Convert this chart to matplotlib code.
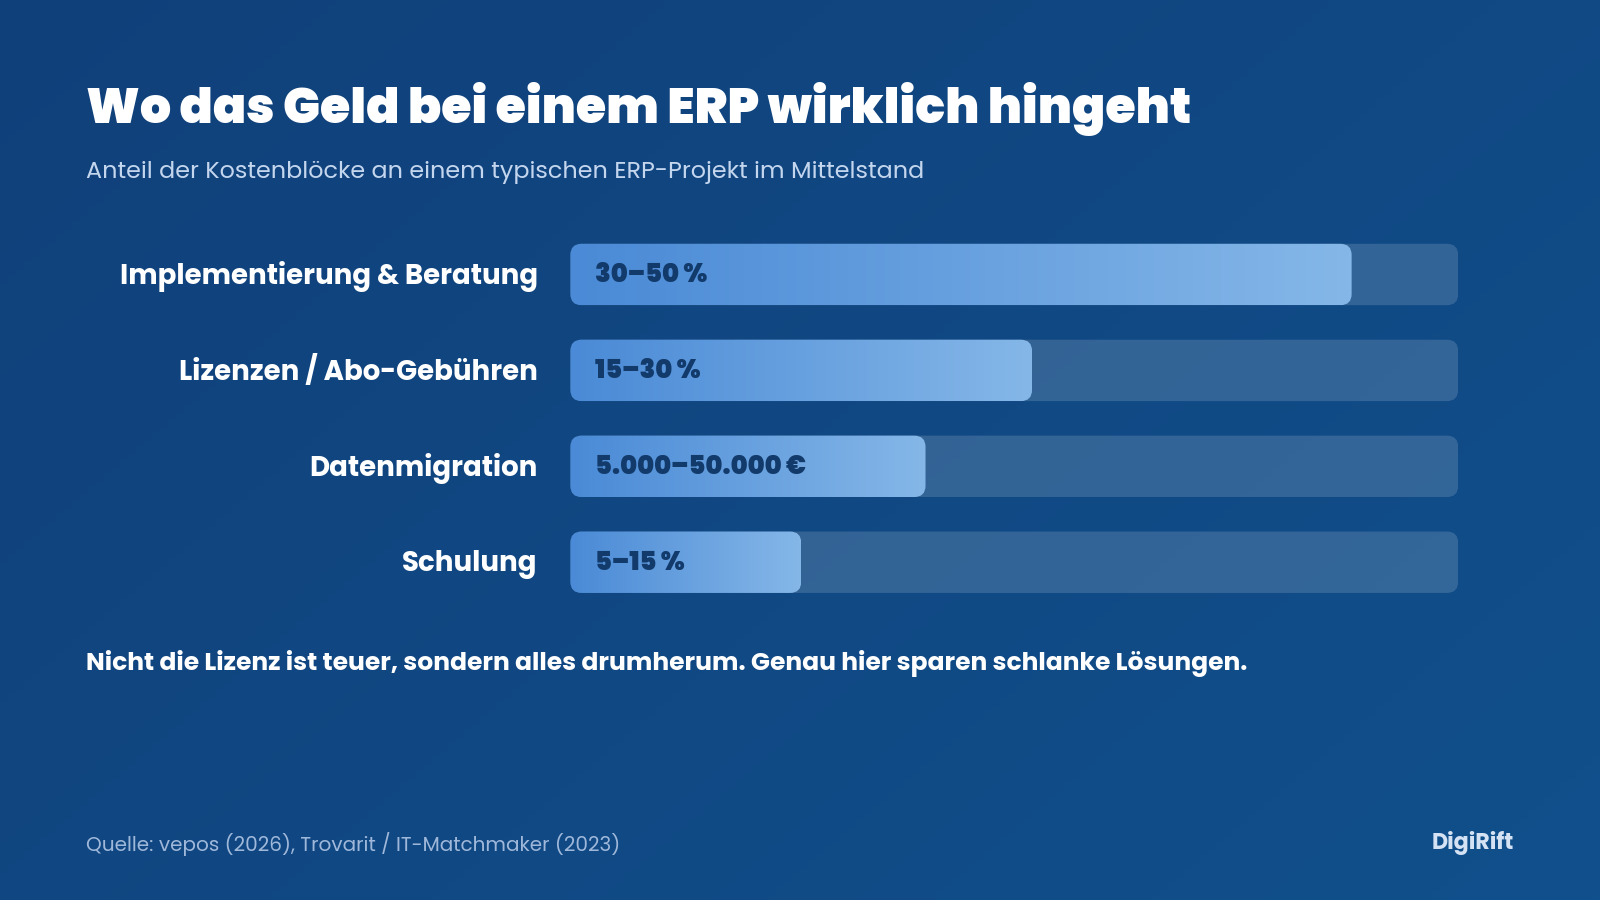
import numpy as np
import matplotlib
matplotlib.use("Agg")
import matplotlib.pyplot as plt
from matplotlib.patches import FancyBboxPatch
from matplotlib.colors import LinearSegmentedColormap

categories = ["Implementierung & Beratung", "Lizenzen / Abo-Gebühren", "Datenmigration", "Schulung"]
bar_values = [0.88, 0.52, 0.40, 0.26]
bar_labels = ["30–50 %", "15–30 %", "5.000–50.000 €", "5–15 %"]

W, H = 1568, 882
fig = plt.figure(figsize=(16, 9), dpi=100)
FONT = ["Poppins", "Inter", "DejaVu Sans"]
plt.rcParams['font.family'] = FONT

bg = fig.add_axes([0, 0, 1, 1])
bg.set_xlim(0, 1); bg.set_ylim(0, 1); bg.axis("off")
yy, xx = np.mgrid[0:1:200j, 0:1:200j]
t = (xx * 0.6 + (1 - yy) * 0.4)
c0 = np.array([0x10, 0x40, 0x7a]) / 255
c1 = np.array([0x10, 0x50, 0x8c]) / 255
img = c0[None, None, :] * (1 - t[..., None]) + c1[None, None, :] * t[..., None]
bg.imshow(img, extent=[0, 1, 0, 1], origin="lower", aspect="auto")

def fx(px): return px / W
def fy(py): return 1 - py / H

fig.text(fx(84), fy(107), "Wo das Geld bei einem ERP wirklich hingeht", fontsize=35.3,
         fontweight="black", color="white", va="center")
fig.text(fx(84), fy(169), "Anteil der Kostenblöcke an einem typischen ERP-Projekt im Mittelstand",
         fontsize=17.2, color="#c4d6ee", va="center")
fig.text(fx(84), fy(650), "Nicht die Lizenz ist teuer, sondern alles drumherum. Genau hier sparen schlanke Lösungen.",
         fontsize=18, fontweight="bold", color="white", va="center")
fig.text(fx(84), fy(827), "Quelle: vepos (2026), Trovarit / IT-Matchmaker (2023)",
         fontsize=14.4, color="#9fb8da", va="center")
fig.text(fx(1484), fy(826), "DigiRift", fontsize=16, fontweight="bold", color="#d5e2f3",
         va="center", ha="right")

ax = fig.add_axes([fx(559), fy(598), 870 / W, 376 / H])
ax.set_xlim(0, 1); ax.set_ylim(3.5, -0.5); ax.axis("off")
h = 0.64
asp = 870 / 94
r = 11 / 870
grad = np.linspace(0, 1, 256)[None, :]
cmap = LinearSegmentedColormap.from_list("g", ["#4a8ad6", "#85b7e8"])
for i, (cat, v, lab) in enumerate(zip(categories, bar_values, bar_labels)):
    track = FancyBboxPatch((0, i - h / 2), 1, h, boxstyle=f"round,pad=0,rounding_size={r}",
                           mutation_aspect=asp, fc="#ffffff", alpha=0.15, ec="none")
    ax.add_patch(track)
    bar = FancyBboxPatch((0, i - h / 2), v, h, boxstyle=f"round,pad=0,rounding_size={r}",
                         mutation_aspect=asp, fc="none", ec="none")
    ax.add_patch(bar)
    im = ax.imshow(grad, extent=[0, v, i + h / 2, i - h / 2], cmap=cmap, aspect="auto", zorder=2)
    im.set_clip_path(bar)
    ax.text(24 / 870, i + 0.02, lab, fontsize=18.4, fontweight="black", color="#123a6b", va="center", zorder=3)
    ax.text(-32 / 870, i + 0.02, cat, fontsize=19.9, fontweight="bold", color="white", va="center", ha="right",
            clip_on=False)
ax.set_xlim(0, 1); ax.set_ylim(3.5, -0.5)

fig.savefig("out.png", dpi=100)
